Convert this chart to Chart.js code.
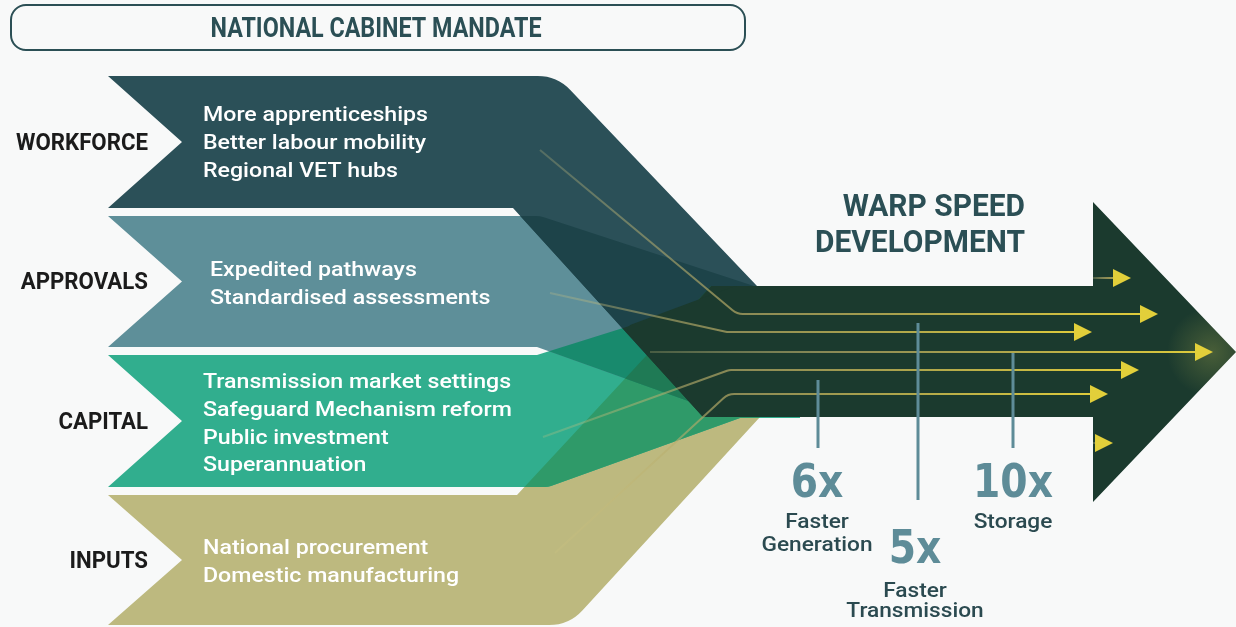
<!DOCTYPE html>
<html><head><meta charset="utf-8">
<script src="https://cdn.jsdelivr.net/npm/chart.js@4.4.1/dist/chart.umd.min.js"></script>
<style>html,body{margin:0;padding:0;background:#f8f9f9;overflow:hidden}</style>
</head><body>
<canvas id="c" width="1236" height="627"></canvas>
<script>
// ---------- content / data ----------
const title = "NATIONAL CABINET MANDATE";
const categories = ["WORKFORCE", "APPROVALS", "CAPITAL", "INPUTS"];
const workforceItems = ["More apprenticeships", "Better labour mobility", "Regional VET hubs"];
const approvalsItems = ["Expedited pathways", "Standardised assessments"];
const capitalItems = ["Transmission market settings", "Safeguard Mechanism reform", "Public investment", "Superannuation"];
const inputsItems = ["National procurement", "Domestic manufacturing"];
const headline = ["WARP SPEED", "DEVELOPMENT"];
const multipliers = [6, 5, 10];
const multiplierLabels = [["Faster", "Generation"], ["Faster", "Transmission"], ["Storage"]];

// ---------- styles ----------
const BG = "#f8f9f9";
const INK = "#2b4f55";
const bandColors = ["#2b5058", "#5e8f99", "#31ae8e", "#bdb97f"];
const SHAFT = "#1b3a2e";
const STAT = "#5e8c98";

const itemLists = [workforceItems, approvalsItems, capitalItems, inputsItems];

const infographic = {
  id: "infographic",
  beforeDraw(chart) {
    const ctx = chart.ctx;
    const xs = chart.scales.x, ys = chart.scales.y;
    const X = v => xs.getPixelForValue(v);
    const Y = v => ys.getPixelForValue(v);

    function poly(pts) {
      const p = new Path2D();
      const n = pts.length;
      p.moveTo(X(pts[0][0]), Y(pts[0][1]));
      for (let i = 1; i < n; i++) {
        const [x, y, r] = pts[i];
        if (r) {
          const nx = pts[(i + 1) % n];
          p.arcTo(X(x), Y(y), X(nx[0]), Y(nx[1]), r);
        } else p.lineTo(X(x), Y(y));
      }
      p.closePath();
      return p;
    }

    ctx.save();
    ctx.fillStyle = BG;
    ctx.fillRect(0, 0, chart.width, chart.height);

    // bands
    const B1 = poly([[108,76],[557,76,45],[757,286],[800,286],[800,417],[703,417],[513,208],[108,208],[182,142]]);
    const B2 = poly([[108,216],[540,216,30],[757,287],[800,287],[800,417],[733,417],[537,347],[108,347],[182,281.5]]);
    const B3 = poly([[108,355],[537,355],[757,286],[800,286],[800,418],[740,418],[548,487,18],[108,487],[182,421]]);
    const B4 = poly([[108,495],[517,495],[711,286],[800,286],[800,417],[760,417],[569,625,45],[108,625],[182,560]]);
    const bands = [B1, B2, B3, B4];
    for (let i = 3; i >= 0; i--) { ctx.fillStyle = bandColors[i]; ctx.fill(bands[i]); }
    function overlap(a, b, color) { ctx.save(); ctx.clip(a); ctx.fillStyle = color; ctx.fill(b); ctx.restore(); }
    overlap(B3, B4, "#2f9a69");
    overlap(B2, B3, "#188a6d");
    overlap(B1, B2, "#1d4349");
    overlap(B2, B4, "#1f7a55");
    overlap(B1, B3, SHAFT);
    overlap(B1, B4, SHAFT);

    // shaft + head
    const shaft = poly([[700,299],[735,286,14],[1093,286],[1093,202],[1236,352],[1093,502],[1093,417],[722,417,14],[622,328,6]]);
    ctx.fillStyle = SHAFT;
    ctx.fill(shaft);
    ctx.save();
    ctx.clip(shaft);
    const g = ctx.createRadialGradient(X(1212), Y(352), 2, X(1212), Y(352), 45);
    g.addColorStop(0, "rgba(225,215,90,0.22)");
    g.addColorStop(1, "rgba(225,215,90,0)");
    ctx.fillStyle = g;
    ctx.fillRect(X(1150), Y(290), 90, 125);
    ctx.restore();

    // flow lines
    function flowLine(pts, yH, tip) {
      const grad = ctx.createLinearGradient(X(pts[0][0]), 0, X(tip), 0);
      grad.addColorStop(0, "rgba(205,195,130,0.25)");
      grad.addColorStop(0.35, "rgba(170,160,95,0.8)");
      grad.addColorStop(1, "rgba(226,206,58,1)");
      ctx.strokeStyle = grad;
      ctx.lineWidth = 2;
      ctx.beginPath();
      ctx.moveTo(X(pts[0][0]), Y(pts[0][1]));
      for (let i = 1; i < pts.length; i++) {
        const [x, y, r] = pts[i];
        if (r) ctx.arcTo(X(x), Y(y), X(x + 40), Y(yH), r); else ctx.lineTo(X(x), Y(y));
      }
      ctx.lineTo(X(tip - 15), Y(yH));
      ctx.stroke();
      ctx.fillStyle = "#e2cf3a";
      ctx.beginPath();
      ctx.moveTo(X(tip), Y(yH));
      ctx.lineTo(X(tip - 18), Y(yH - 9));
      ctx.lineTo(X(tip - 18), Y(yH + 9));
      ctx.closePath();
      ctx.fill();
    }
    flowLine([[1093,278]], 278, 1131);
    flowLine([[540,150],[737,314,16]], 314, 1158);
    flowLine([[550,293],[727,332,12]], 332, 1092);
    flowLine([[650,352]], 352, 1213);
    flowLine([[543,437],[729,370,12]], 370, 1139);
    flowLine([[555,553],[728,394,16]], 394, 1108);
    flowLine([[1093,443]], 443, 1113);

    // stat lines
    ctx.strokeStyle = STAT;
    ctx.lineWidth = 3;
    [[818,380,448],[918,323,500],[1013,353,448]].forEach(([x,a,b]) => {
      ctx.beginPath(); ctx.moveTo(X(x), Y(a)); ctx.lineTo(X(x), Y(b)); ctx.stroke();
    });

    // title box
    ctx.strokeStyle = INK;
    ctx.lineWidth = 2;
    ctx.beginPath();
    ctx.roundRect(X(11), Y(5), X(745) - X(11), Y(50) - Y(5), 15);
    ctx.stroke();
    ctx.restore();
  },
  afterDraw(chart) {
    const ctx = chart.ctx;
    const xs = chart.scales.x, ys = chart.scales.y;
    const X = v => xs.getPixelForValue(v);
    const Y = v => ys.getPixelForValue(v);
    function fit(font, sample, target) { ctx.font = font; return target / ctx.measureText(sample).width; }
    function txt(s, x, y, font, color, align, sx) {
      ctx.save();
      ctx.font = font; ctx.fillStyle = color; ctx.textBaseline = "alphabetic"; ctx.textAlign = align;
      ctx.translate(X(x), Y(y)); ctx.scale(sx, 1);
      ctx.fillText(s, 0, 0);
      ctx.restore();
    }
    // title
    const tf = "700 27px Roboto";
    txt(title, 376, 37, tf, INK, "center", fit(tf, title, 331));

    // category labels
    const cf = "700 23px Roboto";
    const csx = fit(cf, categories[0], 132);
    const catBase = [150, 289, 429, 568];
    categories.forEach((c, i) => txt(c, 148, catBase[i], cf, "#1b1b1b", "right", csx));

    // items
    const itf = "500 21px Roboto";
    const isx = fit(itf, workforceItems[0], 225);
    const itemX = [203, 210, 203, 203];
    const itemBase = [121, 276, 388, 554];
    itemLists.forEach((list, i) => list.forEach((s, j) => txt(s, itemX[i], itemBase[i] + j * 27.8, itf, "#ffffff", "left", isx)));

    // headline
    const hf = "700 31px Roboto";
    const hsx = fit(hf, headline[1], 210);
    txt(headline[0], 1025, 216, hf, INK, "right", hsx);
    txt(headline[1], 1025, 252, hf, INK, "right", hsx);

    // multipliers
    const nf = "bold 46px 'DejaVu Sans'";
    const nsx = fit(nf, multipliers[2] + "x", 80);
    const mx = [817, 915, 1013];
    const mBase = [497, 563, 497];
    const lf = "500 21px Roboto";
    const lsx = fit(lf, "Generation", 111);
    const lBase = [[528, 551], [597, 617], [528]];
    multipliers.forEach((m, i) => {
      txt(m + "x", mx[i], mBase[i], nf, STAT, "center", nsx);
      multiplierLabels[i].forEach((s, j) => txt(s, mx[i], lBase[i][j], lf, "#2b4a50", "center", lsx));
    });
  }
};

new Chart(document.getElementById("c"), {
  type: "scatter",
  data: { datasets: [{ data: [], pointRadius: 0 }] },
  options: {
    responsive: false,
    animation: false,
    devicePixelRatio: 1,
    layout: { padding: 0 },
    events: [],
    scales: {
      x: { type: "linear", min: 0, max: 1236, display: false },
      y: { type: "linear", min: 0, max: 627, reverse: true, display: false }
    },
    plugins: { legend: { display: false }, tooltip: { enabled: false } }
  },
  plugins: [infographic]
});
</script>
</body></html>
